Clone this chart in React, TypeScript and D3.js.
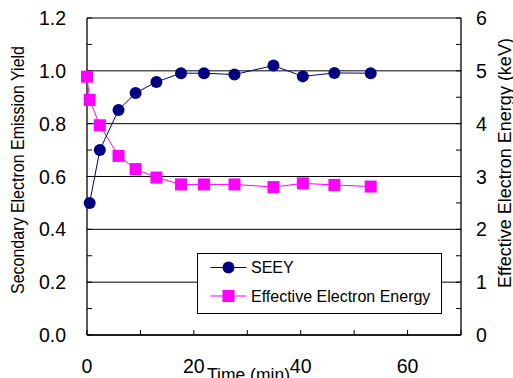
import React from "react";
import * as d3 from "d3";

const seeyTime = [0.5, 2.4, 5.9, 9.1, 13.0, 17.6, 21.9, 27.6, 34.9, 40.4, 46.3, 53.1];
const seeyValue = [0.5, 0.7, 0.852, 0.916, 0.958, 0.991, 0.991, 0.986, 1.02, 0.979, 0.992, 0.991];
const energyTime = [0, 0.5, 2.4, 5.9, 9.1, 13.0, 17.6, 21.9, 27.6, 34.9, 40.4, 46.3, 53.1];
const energyValue = [4.89, 4.45, 3.97, 3.39, 3.14, 2.98, 2.85, 2.85, 2.85, 2.8, 2.87, 2.84, 2.81];
const xTicks = [0, 20, 40, 60];
const leftTicks = [0, 0.2, 0.4, 0.6, 0.8, 1.0, 1.2];
const rightTicks = [0, 1, 2, 3, 4, 5, 6];
const seriesNames = ["SEEY", "Effective Electron Energy"];

export default function App() {
  const W = 513, H = 378;
  const x = d3.scaleLinear().domain([0, 70]).range([87, 461]);
  const yL = d3.scaleLinear().domain([0, 1.2]).range([335, 18]);
  const yR = d3.scaleLinear().domain([0, 6]).range([335, 18]);
  const font = "'Liberation Sans', Arial, sans-serif";
  const navy = "#000080";
  const mag = "#FF00FF";
  const seeyPts = seeyTime.map((t, i) => [x(t), yL(seeyValue[i])] as [number, number]);
  const enPts = energyTime.map((t, i) => [x(t), yR(energyValue[i])] as [number, number]);
  const line = d3.line();
  const minorL = d3.range(0, 1.21, 0.1);
  const minorR = d3.range(0, 6.01, 0.5);
  const minorX = d3.range(0, 70.1, 10);
  const [x0, x1] = x.range();
  const [yb, yt] = yL.range();
  return (
    <svg width={W} height={H} style={{ position: "absolute", left: 0, top: 0, background: "#fff" }}>
      <rect x={0} y={0} width={W} height={H} fill="#fff" />
      {leftTicks.map((v) => (
        <line key={"g" + v} x1={x0} x2={x1} y1={yL(v)} y2={yL(v)} stroke="#000" strokeWidth={1} />
      ))}
      <line x1={x0} x2={x0} y1={yt} y2={yb} stroke="#000" strokeWidth={1.3} />
      <line x1={x1} x2={x1} y1={yt} y2={yb} stroke="#000" strokeWidth={1.3} />
      <line x1={x0} x2={x1} y1={yb} y2={yb} stroke="#000" strokeWidth={1.3} />
      {minorL.map((v) => (
        <line key={"ml" + v} x1={x0} x2={x0 + 5} y1={yL(v)} y2={yL(v)} stroke="#000" />
      ))}
      {minorR.map((v) => (
        <line key={"mr" + v} x1={x1 - 5} x2={x1} y1={yR(v)} y2={yR(v)} stroke="#000" />
      ))}
      {minorX.map((v) => (
        <line key={"mx" + v} x1={x(v)} x2={x(v)} y1={yb} y2={yb - 5} stroke="#000" />
      ))}
      {leftTicks.map((v) => (
        <text key={"lt" + v} x={66} y={yL(v) + 7} textAnchor="end" fontFamily={font} fontSize={19.5} fill="#000">
          {v.toFixed(1)}
        </text>
      ))}
      {rightTicks.map((v) => (
        <text key={"rt" + v} x={476} y={yR(v) + 7} textAnchor="start" fontFamily={font} fontSize={19.5} fill="#000">
          {v}
        </text>
      ))}
      {xTicks.map((v) => (
        <text key={"xt" + v} x={x(v)} y={373} textAnchor="middle" fontFamily={font} fontSize={19.5} fill="#000">
          {v}
        </text>
      ))}
      <text x={248.5} y={381} textAnchor="middle" fontFamily={font} fontSize={17.5} fill="#000">Time (min)</text>
      <text transform={`translate(24,170) rotate(-90)`} textAnchor="middle" fontFamily={font} fontSize={17.5}
        textLength={248} lengthAdjust="spacingAndGlyphs" fill="#000">Secondary Electron Emission Yield</text>
      <text transform={`translate(511,163) rotate(-90)`} textAnchor="middle" fontFamily={font} fontSize={18}
        fill="#000">Effective Electron Energy (keV)</text>
      <path d={line(enPts) || ""} fill="none" stroke={mag} strokeWidth={1} />
      {enPts.map(([px, py], i) => (
        <rect key={"e" + i} x={px - 6} y={py - 6} width={12} height={12} fill={mag} />
      ))}
      <path d={line(seeyPts) || ""} fill="none" stroke={navy} strokeWidth={1} />
      {seeyPts.map(([px, py], i) => (
        <circle key={"s" + i} cx={px} cy={py} r={6} fill={navy} />
      ))}
      <rect x={197.5} y={253.5} width={244} height={60} fill="#fff" stroke="#000" strokeWidth={1} />
      <line x1={210.5} x2={246.5} y1={267.5} y2={267.5} stroke={navy} />
      <circle cx={228.5} cy={267.5} r={6} fill={navy} />
      <text x={251} y={273} fontFamily={font} fontSize={16} fill="#000">{seriesNames[0]}</text>
      <line x1={210.5} x2={246.5} y1={296} y2={296} stroke={mag} />
      <rect x={222.5} y={290} width={12} height={12} fill={mag} />
      <text x={251} y={301.5} fontFamily={font} fontSize={16} fill="#000">{seriesNames[1]}</text>
    </svg>
  );
}
